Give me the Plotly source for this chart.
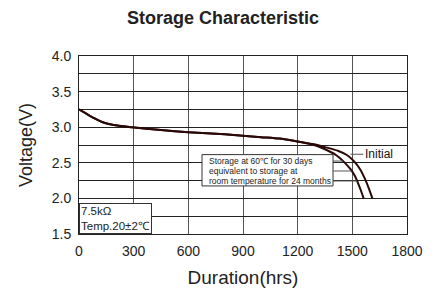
import plotly.graph_objects as go

# Data
hours_initial = [0, 40, 80, 130, 190, 290, 450, 600, 800, 1000, 1100, 1200, 1290,
                 1350, 1420, 1470, 1510, 1545, 1570, 1592, 1610]
volt_initial = [3.25, 3.19, 3.13, 3.07, 3.03, 3.00, 2.96, 2.93, 2.90, 2.86, 2.84, 2.80, 2.76,
                2.72, 2.67, 2.61, 2.52, 2.40, 2.27, 2.13, 2.00]
hours_storage = [0, 40, 80, 130, 190, 290, 450, 600, 800, 1000, 1100, 1200, 1290,
                 1350, 1410, 1455, 1490, 1515, 1535, 1550, 1562]
volt_storage = [3.25, 3.19, 3.13, 3.07, 3.03, 3.00, 2.96, 2.93, 2.90, 2.86, 2.84, 2.80, 2.75,
                2.69, 2.61, 2.51, 2.41, 2.31, 2.19, 2.09, 2.00]

x_ticks = [0, 300, 600, 900, 1200, 1500, 1800]
y_ticks = [1.5, 1.75, 2.0, 2.25, 2.5, 2.75, 3.0, 3.25, 3.5, 3.75, 4.0]
y_ticktext = ["1.5", "", "2.0", "", "2.5", "", "3.0", "", "3.5", "", "4.0"]

title_text = "Storage Characteristic"
x_title = "Duration(hrs)"
y_title = "Voltage(V)"
storage_lines = ["Storage at 60℃ for 30 days",
                 "equivalent to storage at",
                 "room temperature for 24 months"]
storage_line_v = [2.525, 2.385, 2.245]
storage_box = dict(x0=675, x1=1394, y0=2.175, y1=2.615)
leader_ends = [1450, 1496, 1526]
cond_note = "7.5kΩ<br>Temp.20±2℃"
initial_label = "Initial"
initial_label_v = 2.62

curve_color = "#2a0808"
font_family = "Liberation Sans, Arial, sans-serif"

# the page body has an 8px default margin, compensated in the figure margins
OFF = 8

fig = go.Figure()
fig.add_trace(go.Scatter(x=hours_initial, y=volt_initial, mode="lines",
                         line=dict(color=curve_color, width=2, shape="spline", smoothing=0.6),
                         showlegend=False, hoverinfo="skip"))
fig.add_trace(go.Scatter(x=hours_storage, y=volt_storage, mode="lines",
                         line=dict(color=curve_color, width=2, shape="spline", smoothing=0.6),
                         showlegend=False, hoverinfo="skip"))

# Leader line for "Initial"
fig.add_shape(type="line", x0=1490, x1=1560, y0=initial_label_v, y1=initial_label_v,
              line=dict(color="#555555", width=1))
fig.add_annotation(x=1560, y=initial_label_v, text=initial_label, showarrow=False, xanchor="left",
                   font=dict(size=12, color="#111111", family=font_family))

# Storage note box, its text lines and leader lines to the storage curve
fig.add_shape(type="rect", **storage_box, line=dict(color="#333333", width=1),
              fillcolor="white", layer="above")
for txt, yv, xe in zip(storage_lines, storage_line_v, leader_ends):
    fig.add_annotation(x=storage_box["x0"] + 25, y=yv, text=txt, showarrow=False,
                       xanchor="left", yanchor="middle", align="left",
                       font=dict(size=8.5, color="#222222", family=font_family))
    fig.add_shape(type="line", x0=storage_box["x1"], x1=xe, y0=yv, y1=yv,
                  line=dict(color="#555555", width=1))

fig.add_annotation(x=0, y=1.5, xref="x", yref="y", text=cond_note, showarrow=False,
                   xanchor="left", yanchor="bottom", align="left",
                   bordercolor="#333333", borderwidth=1, borderpad=1, bgcolor="white",
                   font=dict(size=11.5, color="#222222", family=font_family))

fig.update_layout(
    width=446, height=296,
    margin=dict(l=79 - OFF, r=39 + OFF, t=56 - OFF, b=62 + OFF),
    paper_bgcolor="white", plot_bgcolor="white",
    title=dict(text="<b>" + title_text + "</b>", x=(223 - OFF) / 446, xanchor="center",
               y=1.0, yanchor="top", pad=dict(t=3),
               font=dict(size=18, color="#222222", family=font_family)),
    font=dict(family=font_family, color="#222222"),
    xaxis=dict(range=[0, 1800], tickvals=x_ticks, ticktext=[str(v) for v in x_ticks],
               showgrid=True, gridcolor="#555555", gridwidth=1,
               showline=True, linecolor="#222222", linewidth=1, mirror=True,
               ticks="", ticklabelstandoff=4, zeroline=False,
               tickfont=dict(size=14, color="#222222"),
               title=dict(text=x_title, font=dict(size=19, color="#222222"), standoff=12)),
    yaxis=dict(range=[1.5, 4.0], tickvals=y_ticks, ticktext=y_ticktext,
               showgrid=True, gridcolor="#222222", gridwidth=1,
               showline=True, linecolor="#222222", linewidth=1, mirror=True,
               ticks="", ticklabelstandoff=4, zeroline=False,
               tickfont=dict(size=14, color="#222222"),
               title=dict(text=y_title, font=dict(size=18, color="#222222"), standoff=14)),
)

fig.write_html("out.html")
